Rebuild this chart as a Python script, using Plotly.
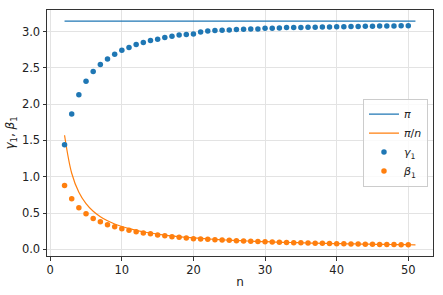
import plotly.graph_objects as go

n_vals = list(range(2, 51))
gamma1 = [1.439, 1.865, 2.130, 2.315, 2.448, 2.545, 2.620, 2.686, 2.740, 2.780,
          2.820, 2.847, 2.875, 2.893, 2.916, 2.934, 2.952, 2.960, 2.966, 2.993,
          3.007, 3.012, 3.016, 3.020, 3.026, 3.030, 3.035, 3.036, 3.044, 3.044,
          3.048, 3.054, 3.054, 3.055, 3.057, 3.059, 3.061, 3.063, 3.065, 3.066,
          3.068, 3.069, 3.071, 3.072, 3.074, 3.075, 3.076, 3.078, 3.079]
beta1 = [0.880, 0.696, 0.572, 0.490, 0.426, 0.380, 0.339, 0.311, 0.283, 0.261,
         0.242, 0.224, 0.215, 0.197, 0.187, 0.173, 0.165, 0.155, 0.146, 0.142,
         0.137, 0.133, 0.128, 0.124, 0.119, 0.115, 0.110, 0.106, 0.105, 0.101,
         0.097, 0.095, 0.092, 0.089, 0.087, 0.084, 0.082, 0.080, 0.078, 0.076,
         0.074, 0.072, 0.071, 0.069, 0.068, 0.066, 0.065, 0.064, 0.062]

line_n = list(range(2, 52))
pi_line = [3.1416] * len(line_n)
pi_over_n = [1.5708, 1.0472, 0.7854, 0.6283, 0.5236, 0.4488, 0.3927, 0.3491, 0.3142,
             0.2856, 0.2618, 0.2417, 0.2244, 0.2094, 0.1963, 0.1848, 0.1745, 0.1653,
             0.1571, 0.1496, 0.1428, 0.1366, 0.1309, 0.1257, 0.1208, 0.1164, 0.1122,
             0.1083, 0.1047, 0.1013, 0.0982, 0.0952, 0.0924, 0.0898, 0.0873, 0.0849,
             0.0827, 0.0806, 0.0785, 0.0766, 0.0748, 0.0731, 0.0714, 0.0698, 0.0683,
             0.0668, 0.0654, 0.0641, 0.0628, 0.0616]

x_ticks = [0, 10, 20, 30, 40, 50]
y_ticks = [0.0, 0.5, 1.0, 1.5, 2.0, 2.5, 3.0]

BLUE = "#1f77b4"
ORANGE = "#ff7f0e"
FONT = "DejaVu Sans"

fig = go.Figure()
fig.add_trace(go.Scatter(x=line_n, y=pi_line, mode="lines", name="<i>π</i>",
                         line=dict(color=BLUE, width=1.2)))
fig.add_trace(go.Scatter(x=line_n, y=pi_over_n, mode="lines", name="<i>π</i>/<i>n</i>",
                         line=dict(color=ORANGE, width=1.2, shape="spline")))
fig.add_trace(go.Scatter(x=n_vals, y=gamma1, mode="markers", name="<i>γ</i><sub>1</sub>",
                         marker=dict(color=BLUE, size=5.5, line=dict(width=0))))
fig.add_trace(go.Scatter(x=n_vals, y=beta1, mode="markers", name="<i>β</i><sub>1</sub>",
                         marker=dict(color=ORANGE, size=5.5, line=dict(width=0))))

axis_common = dict(showline=True, linecolor="#333333", linewidth=1, mirror=True,
                   ticks="outside", ticklen=3.5, tickwidth=1, tickcolor="#333333",
                   showgrid=True, gridcolor="#e3e3e3", gridwidth=1, zeroline=False,
                   automargin=False,
                   tickfont=dict(family=FONT, size=11.5, color="#222222"))

fig.update_xaxes(range=[-0.45, 53.45], tickvals=x_ticks, ticktext=[str(v) for v in x_ticks],
                 title=dict(text="n", font=dict(family=FONT, size=12, color="#222222"), standoff=1),
                 **axis_common)
fig.update_yaxes(range=[-0.092, 3.296], tickvals=y_ticks, ticktext=[f"{v:.1f}" for v in y_ticks],
                 title=dict(text="<i>γ</i><sub>1</sub>, <i>β</i><sub>1</sub>",
                            font=dict(family=FONT, size=12, color="#222222"), standoff=4),
                 **axis_common)

fig.update_layout(
    width=443, height=295,
    margin=dict(l=47, r=10, t=10, b=39),
    plot_bgcolor="white", paper_bgcolor="white",
    font=dict(family=FONT, size=11, color="#222222"),
    legend=dict(x=0.987, y=0.64, xanchor="right", yanchor="top",
                bgcolor="rgba(255,255,255,0.8)", bordercolor="#cccccc", borderwidth=1,
                font=dict(family=FONT, size=11), itemwidth=30, tracegroupgap=0),
    showlegend=True,
)

fig.write_html("out.html",
               config={"displayModeBar": False},
               post_script="document.body.style.margin='0';document.body.style.overflow='hidden';")
